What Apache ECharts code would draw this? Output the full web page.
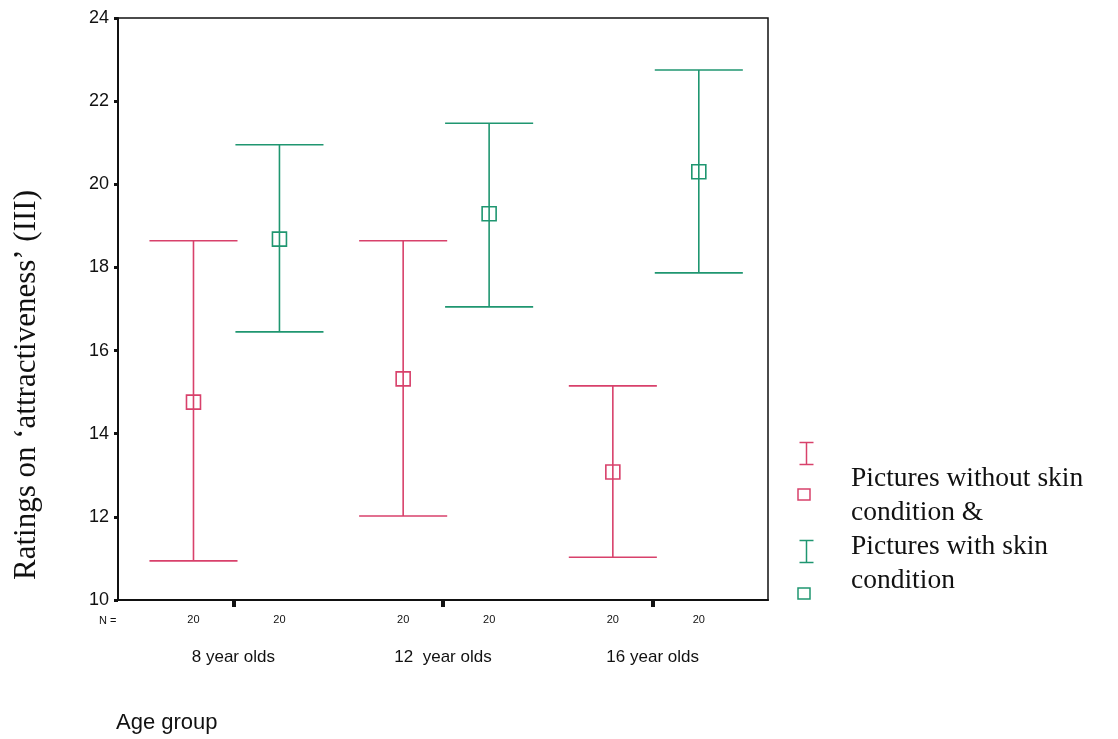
<!DOCTYPE html>
<html>
<head>
<meta charset="utf-8">
<script src="https://cdn.jsdelivr.net/npm/echarts@6/dist/echarts.min.js"></script>
<style>
  html, body { margin: 0; padding: 0; background: #fff; }
  #main { width: 1118px; height: 739px; }
</style>
</head>
<body>
<div id="main"></div>
<script>
// age groups on the x axis
const categories = ['8 year olds', '12  year olds', '16 year olds'];
const groupN = ['20', '20', '20'];
// pictures without skin condition (red): mean, lower, upper
const withoutMean = [14.76, 15.32, 13.08];
const withoutLow = [10.94, 12.02, 11.03];
const withoutHigh = [18.64, 18.64, 15.15];
// pictures with skin condition (green)
const withMean = [18.68, 19.29, 20.30];
const withLow = [16.45, 17.05, 17.87];
const withHigh = [20.95, 21.47, 22.75];
const yTicks = [10, 12, 14, 16, 18, 20, 22, 24];

const RED = '#d8416b';
const GREEN = '#1f9670';
// x offset of each series inside its group (axis units)
const offRed = -0.19, offGreen = 0.22;

function buildData(off, mean, low, high) {
  return categories.map((c, i) => [i + 1 + off, low[i], high[i], mean[i]]);
}

function renderBar(color) {
  return function (params, api) {
    const x = api.value(0);
    const lo = api.coord([x, api.value(1)]);
    const hi = api.coord([x, api.value(2)]);
    const mid = api.coord([x, api.value(3)]);
    const half = api.size([0.21, 0])[0];
    const sq = 7;
    const st = { stroke: color, lineWidth: 1.6, fill: null };
    return {
      type: 'group',
      children: [
        { type: 'line', shape: { x1: hi[0], y1: hi[1], x2: lo[0], y2: lo[1] }, style: st },
        { type: 'line', shape: { x1: hi[0] - half, y1: hi[1], x2: hi[0] + half, y2: hi[1] }, style: st },
        { type: 'line', shape: { x1: lo[0] - half, y1: lo[1], x2: lo[0] + half, y2: lo[1] }, style: st },
        { type: 'rect', shape: { x: mid[0] - sq, y: mid[1] - sq, width: sq * 2, height: sq * 2 }, style: { stroke: color, lineWidth: 1.6, fill: 'rgba(0,0,0,0)' } }
      ]
    };
  };
}

const nPositions = [];
const nLabels = {};
categories.forEach((c, i) => {
  nPositions.push(i + 1 + offRed, i + 1 + offGreen);
  nLabels[(i + 1 + offRed).toFixed(2)] = groupN[i];
  nLabels[(i + 1 + offGreen).toFixed(2)] = groupN[i];
});

const chart = echarts.init(document.getElementById('main'));
chart.setOption({
  animation: false,
  grid: { left: 118, right: 350, top: 18, bottom: 139, show: true, borderColor: '#111', borderWidth: 1.5, backgroundColor: 'transparent' },
  xAxis: [
    {
      type: 'value', min: 0.45, max: 3.55,
      splitLine: { show: false },
      axisLine: { show: true, lineStyle: { color: '#111', width: 2 } },
      axisTick: { show: true, customValues: [1, 2, 3], length: 7, inside: false, lineStyle: { color: '#111', width: 4 } },
      axisLabel: {
        customValues: [1, 2, 3], margin: 49,
        formatter: v => categories[Math.round(v) - 1],
        fontFamily: 'Liberation Sans', fontSize: 17, color: '#111'
      }
    },
    {
      type: 'value', min: 0.45, max: 3.55, position: 'bottom',
      splitLine: { show: false }, axisLine: { show: false }, axisTick: { show: false },
      axisLabel: {
        customValues: nPositions, margin: 14,
        formatter: v => nLabels[v.toFixed(2)] || '',
        fontFamily: 'Liberation Sans', fontSize: 11, color: '#111'
      }
    }
  ],
  yAxis: {
    type: 'value', min: 10, max: 24, interval: 2,
    splitLine: { show: false },
    axisLine: { show: true, lineStyle: { color: '#111', width: 2 } },
    axisTick: { show: true, length: 4, lineStyle: { color: '#111', width: 3 } },
    axisLabel: {
      margin: 9, fontFamily: 'Liberation Sans', fontSize: 18, color: '#111',
      formatter: v => yTicks.includes(v) ? String(v) : ''
    }
  },
  graphic: [
    { type: 'text', x: 27, y: 385, rotation: Math.PI / 2, style: {
      text: 'Ratings on \u2018attractiveness\u2019 (III)', fontFamily: 'Liberation Serif', fontSize: 31,
      fill: '#111', align: 'center', verticalAlign: 'middle'
    } },
    { type: 'text', left: 99, top: 615, style: { text: 'N =', fontFamily: 'Liberation Sans', fontSize: 11, fill: '#111' } },
    { type: 'text', left: 116, top: 712, style: { text: 'Age group', fontFamily: 'Liberation Sans', fontSize: 22, fill: '#111' } },
    // legend symbols
    { type: 'group', left: 797, top: 440, children: [
      { type: 'line', shape: { x1: 0, y1: 0, x2: 14, y2: 0 }, style: { stroke: RED, lineWidth: 1.5 } },
      { type: 'line', shape: { x1: 7, y1: 0, x2: 7, y2: 22 }, style: { stroke: RED, lineWidth: 1.5 } },
      { type: 'line', shape: { x1: 0, y1: 22, x2: 14, y2: 22 }, style: { stroke: RED, lineWidth: 1.5 } }
    ] },
    { type: 'rect', shape: { x: 798, y: 489, width: 12, height: 11 }, style: { stroke: RED, lineWidth: 1.5, fill: 'none' } },
    { type: 'group', left: 797, top: 538, children: [
      { type: 'line', shape: { x1: 0, y1: 0, x2: 14, y2: 0 }, style: { stroke: GREEN, lineWidth: 1.5 } },
      { type: 'line', shape: { x1: 7, y1: 0, x2: 7, y2: 22 }, style: { stroke: GREEN, lineWidth: 1.5 } },
      { type: 'line', shape: { x1: 0, y1: 22, x2: 14, y2: 22 }, style: { stroke: GREEN, lineWidth: 1.5 } }
    ] },
    { type: 'rect', shape: { x: 798, y: 588, width: 12, height: 11 }, style: { stroke: GREEN, lineWidth: 1.5, fill: 'none' } },
    { type: 'text', left: 851, top: 462, style: {
      text: 'Pictures without skin\ncondition &\nPictures with skin\ncondition',
      fontFamily: 'Liberation Serif', fontSize: 27.5, lineHeight: 34, fill: '#111'
    } }
  ],
  series: [
    { type: 'custom', name: 'Pictures without skin condition', renderItem: renderBar(RED),
      data: buildData(offRed, withoutMean, withoutLow, withoutHigh), encode: { x: 0, y: [1, 2, 3] } },
    { type: 'custom', name: 'Pictures with skin condition', renderItem: renderBar(GREEN),
      data: buildData(offGreen, withMean, withLow, withHigh), encode: { x: 0, y: [1, 2, 3] } }
  ]
});
</script>
</body>
</html>
